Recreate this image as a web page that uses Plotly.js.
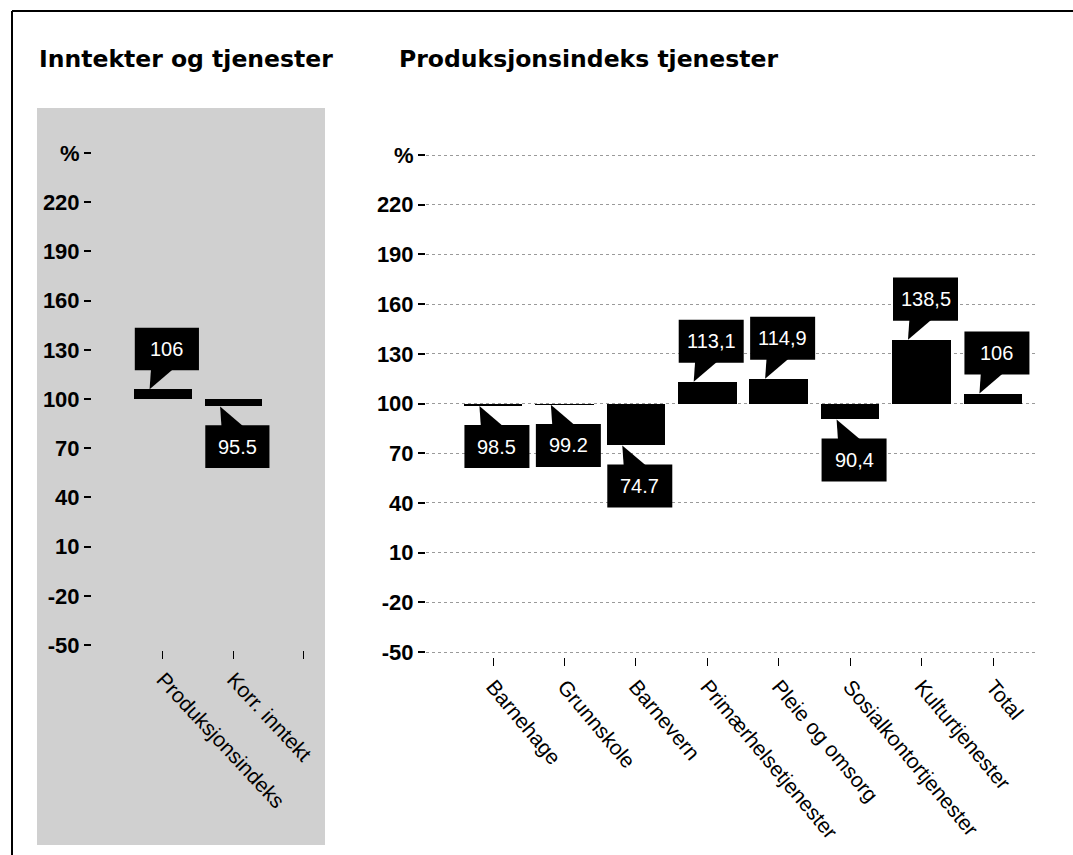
<!DOCTYPE html>
<html>
<head>
<meta charset="utf-8">
<script src="https://cdn.plot.ly/plotly-3.0.1.min.js"></script>
<style>
  html, body { margin: 0; padding: 0; background: #ffffff; }
  #chart { width: 1073px; height: 855px; }
</style>
</head>
<body>
<div id="chart"></div>
<script>
// ---- data ----
const leftTitle = "Inntekter og tjenester";
const rightTitle = "Produksjonsindeks tjenester";
const leftCategories = ["Produksjonsindeks", "Korr. inntekt"];
const leftValues = [106, 95.5];
const leftLabels = ["106", "95.5"];
const rightCategories = ["Barnehage", "Grunnskole", "Barnevern", "Primærhelsetjenester",
  "Pleie og omsorg", "Sosialkontortjenester", "Kulturtjenester", "Total"];
const rightValues = [98.5, 99.2, 74.7, 113.1, 114.9, 90.4, 138.5, 106];
const rightLabels = ["98.5", "99.2", "74.7", "113,1", "114,9", "90,4", "138,5", "106"];
const yTickVals = [-50, -20, 10, 40, 70, 100, 130, 160, 190, 220, 250];
const yTickText = ["-50", "-20", "10", "40", "70", "100", "130", "160", "190", "220", "%"];
const baseline = 100;

// ---- style constants ----
const W = 1073, H = 855;
const px = v => v / W;          // paper x from pixel
const py = v => 1 - v / H;      // paper y from pixel
const barW = 0.82;
const boxW = 0.91;
const boxH = 26;
const gap = 11.5;
const sans = "Liberation Sans, Arial, sans-serif";
const pad = 3; // extra axis units beyond -50 / 250

function barTrace(values, xa, ya) {
  return {
    type: "bar",
    x: values.map((v, i) => i),
    y: values.map(v => v - baseline),
    base: values.map(() => baseline),
    width: barW,
    marker: { color: "#000000", line: { width: 0 } },
    xaxis: xa, yaxis: ya,
    hoverinfo: "skip",
    showlegend: false
  };
}

const shapes = [];
const annotations = [];

function callouts(values, labels, xref, yref) {
  values.forEach((v, i) => {
    const bl = i - barW / 2;
    const bx0 = bl + 0.01, bx1 = bx0 + boxW;
    let y0, y1, inside;
    if (v >= baseline) {
      y0 = v + gap; y1 = y0 + boxH; inside = y0 + 1;
    } else {
      y1 = v - gap; y0 = y1 - boxH; inside = y1 - 1;
    }
    shapes.push({
      type: "rect", xref, yref, x0: bx0, x1: bx1, y0, y1,
      fillcolor: "#000000", line: { width: 0 }, layer: "above"
    });
    const path = `M ${bl + 0.22},${v} L ${bl + 0.24},${inside} L ${bl + 0.56},${inside} Z`;
    shapes.push({
      type: "path", xref, yref, path,
      fillcolor: "#000000", line: { width: 0 }, layer: "above"
    });
    annotations.push({
      xref, yref, x: (bx0 + bx1) / 2, y: (y0 + y1) / 2,
      text: labels[i], showarrow: false,
      font: { family: sans, size: 20, color: "#ffffff" },
      xanchor: "center", yanchor: "middle"
    });
  });
}

callouts(leftValues, leftLabels, "x", "y");
callouts(rightValues, rightLabels, "x2", "y2");

// grey left panel background
shapes.unshift({
  type: "rect", xref: "paper", yref: "paper",
  x0: px(37), x1: px(325), y0: py(845), y1: py(108),
  fillcolor: "#d0d0d0", line: { width: 0 }, layer: "below"
});
// frame lines
shapes.push({ type: "line", xref: "paper", yref: "paper",
  x0: px(12), x1: 1, y0: py(11), y1: py(11), line: { color: "#000", width: 2 } });
shapes.push({ type: "line", xref: "paper", yref: "paper",
  x0: px(12), x1: px(12), y0: py(11), y1: 0, line: { color: "#000", width: 2 } });

annotations.push({
  xref: "paper", yref: "paper", x: px(37), y: py(59), xanchor: "left", yanchor: "middle",
  text: "<b>" + leftTitle + "</b>", showarrow: false,
  font: { family: "DejaVu Sans, Verdana, sans-serif", size: 23.5, color: "#000" }
});
annotations.push({
  xref: "paper", yref: "paper", x: px(397), y: py(59), xanchor: "left", yanchor: "middle",
  text: "<b>" + rightTitle + "</b>", showarrow: false,
  font: { family: "DejaVu Sans, Verdana, sans-serif", size: 23.5, color: "#000" }
});

// y domain helper: value -50 at pixel bot, 250 at pixel top
function yDomain(botPx, topPx) {
  const ppu = (botPx - topPx) / 300;
  return [py(botPx + pad * ppu), py(topPx - pad * ppu)];
}

const yCommon = {
  range: [-50 - pad, 250 + pad],
  tickvals: yTickVals, ticktext: yTickText,
  ticks: "outside", tickcolor: "#000", tickwidth: 2, ticklen: 7,
  tickfont: { family: sans, size: 22, color: "#000", weight: "bold" },
  zeroline: false, showline: false, fixedrange: true
};

const layout = {
  width: W, height: H,
  margin: { l: 0, r: 0, t: 0, b: 0 },
  paper_bgcolor: "#ffffff",
  plot_bgcolor: "rgba(0,0,0,0)",
  showlegend: false,
  bargap: 0,
  xaxis: {
    domain: [px(92), px(325)], range: [-1.007, 2.298], anchor: "y",
    tickvals: [0, 1, 2], ticktext: leftCategories.concat([""]),
    tickangle: 47, ticks: "outside", ticklen: 8, tickcolor: "#000", tickwidth: 1,
    tickfont: { family: sans, size: 21, color: "#000" },
    showgrid: false, zeroline: false, showline: false
  },
  yaxis: Object.assign({}, yCommon, {
    domain: yDomain(645, 153), anchor: "x", showgrid: false
  }),
  xaxis2: {
    domain: [px(426), px(1035)], range: [-0.938, 7.588], anchor: "y2",
    tickvals: rightCategories.map((c, i) => i), ticktext: rightCategories,
    tickangle: 50, ticks: "outside", ticklen: 8, tickcolor: "#000", tickwidth: 1,
    tickfont: { family: sans, size: 21, color: "#000" },
    showgrid: false, zeroline: false, showline: false
  },
  yaxis2: Object.assign({}, yCommon, {
    domain: yDomain(652, 155), anchor: "x2",
    showgrid: true, gridcolor: "#9a9a9a", griddash: "dot", gridwidth: 1
  }),
  shapes, annotations
};

Plotly.newPlot("chart", [barTrace(leftValues, "x", "y"), barTrace(rightValues, "x2", "y2")],
  layout, { staticPlot: true, displayModeBar: false });
</script>
</body>
</html>
